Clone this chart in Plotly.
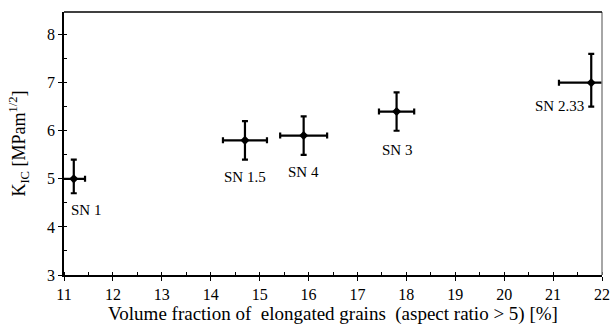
import plotly.graph_objects as go

labels = ["SN 1", "SN 1.5", "SN 4", "SN 3", "SN 2.33"]
vol_frac = [11.2, 14.7, 15.9, 17.8, 21.78]
vol_err = [0.23, 0.45, 0.48, 0.36, 0.66]
kic = [5.0, 5.8, 5.9, 6.4, 7.0]
kic_err_plus = [0.4, 0.4, 0.4, 0.4, 0.6]
kic_err_minus = [0.3, 0.4, 0.4, 0.4, 0.5]
label_x = [11.45, 14.7, 15.9, 17.8, 21.13]
label_y = [4.35, 5.03, 5.15, 5.59, 6.52]

FONT = "Times New Roman"

fig = go.Figure()
fig.add_trace(go.Scatter(
    x=vol_frac, y=kic, mode="markers",
    marker=dict(color="black", size=7, symbol="diamond"),
    error_x=dict(type="data", array=vol_err, color="black", thickness=2.2, width=3),
    error_y=dict(type="data", array=kic_err_plus, arrayminus=kic_err_minus,
                 color="black", thickness=2.2, width=3),
    showlegend=False, cliponaxis=True,
))

for lx, ly, t in zip(label_x, label_y, labels):
    fig.add_annotation(x=lx, y=ly, text=t, showarrow=False,
                       font=dict(family=FONT, size=15, color="black"))

fig.add_shape(type="line", xref="paper", yref="paper", x0=1, x1=1, y0=0, y1=1,
              line=dict(color="#888888", width=1.5))
fig.add_shape(type="line", xref="paper", yref="paper", x0=0, x1=1, y0=1, y1=1,
              line=dict(color="black", width=1.5))

fig.update_layout(
    width=614, height=327,
    margin=dict(l=64, r=12, t=12, b=52),
    plot_bgcolor="white", paper_bgcolor="white",
    font=dict(family=FONT, size=15, color="black"),
    xaxis=dict(range=[11, 22], dtick=1, showgrid=False, zeroline=False, automargin=False,
               showline=True, linecolor="black", linewidth=1.5,
               ticks="outside", ticklen=4, tickcolor="black", tickwidth=1.2,
               minor=dict(dtick=0.5, ticks="inside", ticklen=3, tickcolor="black"),
               title=dict(text="Volume fraction of&nbsp; elongated grains&nbsp; (aspect ratio > 5) [%]",
                          font=dict(family=FONT, size=19, color="black"), standoff=4),
               tickfont=dict(family=FONT, size=16, color="black")),
    yaxis=dict(range=[3, 8.47], dtick=1, showgrid=False, zeroline=False, automargin=False,
               showline=True, linecolor="black", linewidth=1.5,
               ticks="outside", ticklen=4, tickcolor="black", tickwidth=1.2,
               minor=dict(dtick=0.5, ticks="inside", ticklen=3, tickcolor="black"),
               title=dict(text="K<sub>IC</sub> [MPam<sup>1/2</sup>]",
                          font=dict(family=FONT, size=18, color="black"), standoff=17),
               tickfont=dict(family=FONT, size=16, color="black")),
)

fig.write_html("out.html")
